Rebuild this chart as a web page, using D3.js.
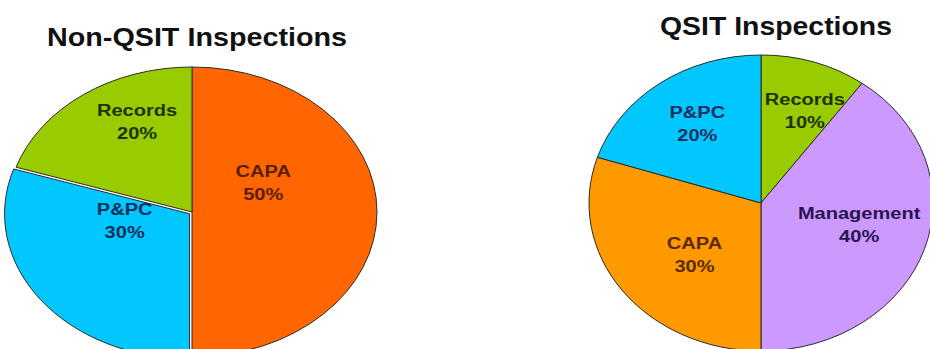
<!DOCTYPE html>
<html>
<head>
<meta charset="utf-8">
<script src="https://cdn.jsdelivr.net/npm/d3@7"></script>
<style>
  body { margin: 0; background: #fff; }
  svg { display: block; }
  text { font-family: "Liberation Sans", Arial, sans-serif; font-weight: bold; }
</style>
</head>
<body>
<div class="canvas"></div>
<script>
// data
const nonQsitCategories = ['CAPA', 'P&PC', 'Records'];
const nonQsitValues = [50, 30, 20];
const qsitCategories = ['Records', 'Management', 'CAPA', 'P&PC'];
const qsitValues = [10, 40, 30, 20];
const chartTitles = ['Non-QSIT Inspections', 'QSIT Inspections'];

const dims = {width: 930, height: 349};
const stretch = 1.18; // the source picture is squeezed wider than tall

const canvas = d3.select('.canvas')
    .append('svg').attr('width', dims.width).attr('height', dims.height);

// one layout entry per pie (center, radii, label placement)
const pies = [
    {
        title: chartTitles[0], cats: nonQsitCategories, vals: nonQsitValues,
        cx: 192, cy: 212, rx: 185, ry: 145,
        titleX: 197, titleY: 46, titleW: 300,
        labelK: 0.45, labelShift: -30,
        nudge: {'Records': [-6, -8], 'CAPA': [-12, 0]},
        explode: {'P&PC': 3},
        fill: {'CAPA': '#ff6600', 'P&PC': '#00c8ff', 'Records': '#99cc00'},
        ink: {'CAPA': '#5a1e00', 'P&PC': '#0d2f5c', 'Records': '#1c3300'}
    },
    {
        title: chartTitles[1], cats: qsitCategories, vals: qsitValues,
        cx: 761, cy: 203, rx: 172, ry: 148,
        titleX: 776, titleY: 35, titleW: 232,
        labelK: 0.6, labelShift: -6,
        nudge: {'Records': [12, -3], 'CAPA': [17, 5], 'P&PC': [-3, -2]},
        explode: {},
        fill: {'Records': '#99cc00', 'Management': '#cc99ff', 'CAPA': '#ff9900', 'P&PC': '#00c8ff'},
        ink: {'Records': '#1c3300', 'Management': '#2a1450', 'CAPA': '#5a2a00', 'P&PC': '#1a3060'}
    }
];

const R = 100; // unit radius, stretched into an ellipse afterwards

const computeAngles = d3.pie()
    .value(d => d.value)
    .sort(null);

const arcPath = d3.arc()
    .outerRadius(R)
    .innerRadius(0);

pies.forEach(p => {
    const data = p.cats.map((c, i) => ({name: c, value: p.vals[i]}));
    const angles = computeAngles(data);

    const holder = canvas.append('g').attr('transform', `translate(${p.cx},${p.cy})`);
    const graph = holder.append('g').attr('transform', `scale(${p.rx / R},${p.ry / R})`);

    graph.selectAll('path')
        .data(angles)
        .enter()
        .append('path')
            .attr('d', d => arcPath(d))
            .attr('transform', d => {
                const off = p.explode[d.data.name] || 0;
                const mid = (d.startAngle + d.endAngle) / 2;
                return `translate(${Math.sin(mid) * off * R / p.rx},${-Math.cos(mid) * off * R / p.ry})`;
            })
            .attr('fill', d => p.fill[d.data.name])
            .attr('stroke', '#2b2b2b')
            .attr('stroke-width', 1)
            .attr('vector-effect', 'non-scaling-stroke');

    // labels: name + percent, centred around a point on the slice bisector
    const labels = holder.selectAll('g.lbl')
        .data(angles)
        .enter()
        .append('g')
            .attr('class', 'lbl')
            .attr('transform', d => {
                const mid = (d.startAngle + d.endAngle) / 2;
                const n = p.nudge[d.data.name] || [0, 0];
                const x = Math.sin(mid) * p.labelK * p.rx + n[0];
                const y = -Math.cos(mid) * p.labelK * p.ry + p.labelShift + n[1];
                return `translate(${x},${y})`;
            });

    labels.append('text')
        .attr('text-anchor', 'middle')
        .attr('transform', `scale(${stretch},1)`)
        .attr('font-size', 17)
        .attr('fill', d => p.ink[d.data.name])
        .attr('y', -5)
        .text(d => d.data.name);

    labels.append('text')
        .attr('text-anchor', 'middle')
        .attr('transform', `scale(${stretch},1)`)
        .attr('font-size', 17)
        .attr('fill', d => p.ink[d.data.name])
        .attr('y', 18)
        .text(d => `${d.data.value}%`);

    canvas.append('text')
        .attr('text-anchor', 'middle')
        .attr('x', p.titleX)
        .attr('y', p.titleY)
        .attr('font-size', 25)
        .attr('textLength', p.titleW)
        .attr('lengthAdjust', 'spacingAndGlyphs')
        .attr('fill', '#111')
        .text(p.title);
});
</script>
</body>
</html>
